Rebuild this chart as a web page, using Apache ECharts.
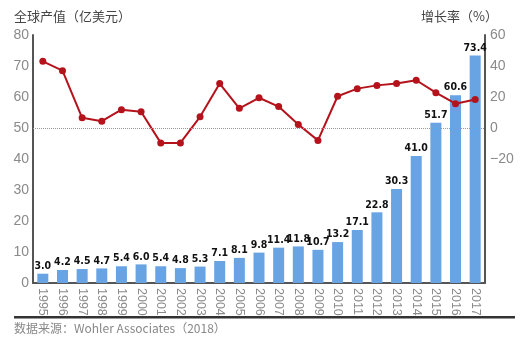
<!DOCTYPE html>
<html><head><meta charset="utf-8">
<script src="https://cdn.jsdelivr.net/npm/echarts@6/dist/echarts.min.js"></script>
<style>html,body{margin:0;padding:0;background:#fff}#c{width:525px;height:337px}</style>
</head><body><div id="c"></div>
<script>
const years = ['1995','1996','1997','1998','1999','2000','2001','2002','2003','2004','2005','2006','2007','2008','2009','2010','2011','2012','2013','2014','2015','2016','2017'];
const outputValue = [3.0,4.2,4.5,4.7,5.4,6.0,5.4,4.8,5.3,7.1,8.1,9.8,11.4,11.8,10.7,13.2,17.1,22.8,30.3,41.0,51.7,60.6,73.4];
const growthRate = [43,37,6.6,4.4,11.8,10.5,-9.6,-9.6,7.2,28.7,12.7,19.5,13.8,2.2,-8,20.5,25.4,27.5,28.7,30.8,22.8,15.7,18.4];
const leftAxisName = '全球产值（亿美元）';
const rightAxisName = '增长率（%）';
const sourceText = '数据来源：Wohler Associates（2018）';

const chart = echarts.init(document.getElementById('c'), null, {renderer:'canvas'});
const gray = '#8a8a8a';
chart.setOption({
  backgroundColor: '#ffffff',
  animation: false,
  grid: {left: 33, right: 40, top: 35, bottom: 54},
  xAxis: {
    type: 'category', data: years,
    axisLine: {lineStyle: {color: '#555', width: 2}},
    axisTick: {show: false},
    axisLabel: {interval: 0, rotate: -90, color: gray, fontSize: 12.5, fontFamily: 'Liberation Sans', margin: 5}
  },
  yAxis: [{
    type: 'value', min: 0, max: 80, interval: 10,
    name: leftAxisName, nameLocation: 'end', nameGap: 12,
    nameTextStyle: {color: '#444', fontSize: 13, align: 'left', padding: [0,0,0,-19], fontFamily: 'Noto Sans CJK SC'},
    axisLine: {show: true, lineStyle: {color: '#555', width: 2}},
    axisTick: {show: false}, splitLine: {show: false},
    axisLabel: {color: gray, fontSize: 14, fontFamily: 'Liberation Sans', margin: 4}
  }, {
    type: 'value', min: -100, max: 60, interval: 20, position: 'right',
    name: rightAxisName, nameLocation: 'end', nameGap: 12,
    nameTextStyle: {color: '#444', fontSize: 13, align: 'right', padding: [0,-13,0,0], fontFamily: 'Noto Sans CJK SC'},
    axisLine: {show: true, lineStyle: {color: '#555', width: 2}},
    axisTick: {show: false}, splitLine: {show: false},
    axisLabel: {color: gray, fontSize: 14, fontFamily: 'Liberation Sans', margin: 5,
      formatter: v => v < -20 ? '' : (v < 0 ? '\u2212' + Math.abs(v) : String(v))}
  }],
  series: [{
    type: 'bar', data: outputValue, yAxisIndex: 0, barWidth: 11,
    itemStyle: {color: '#68a3e3'},
    label: {show: true, position: 'top', distance: 2, color: '#111', fontWeight: 'bold',
      fontFamily: 'DejaVu Sans Condensed', fontSize: 10.5,
      formatter: p => p.value.toFixed(1)}
  }, {
    type: 'line', data: growthRate, yAxisIndex: 1,
    symbol: 'circle', symbolSize: 7,
    lineStyle: {color: '#b5121b', width: 2},
    itemStyle: {color: '#b5121b'},
    markLine: {silent: true, symbol: 'none', label: {show: false},
      lineStyle: {color: '#999', type: 'dotted', width: 1},
      data: [{yAxis: 0}]}
  }],
  graphic: [
    {type: 'rect', shape: {x: 14, y: 316, width: 501, height: 2.5}, style: {fill: '#333'}},
    {type: 'text', left: 14, top: 322, style: {text: sourceText, fill: '#888', fontSize: 12, fontFamily: 'Noto Sans CJK SC'}}
  ]
});
</script></body></html>
